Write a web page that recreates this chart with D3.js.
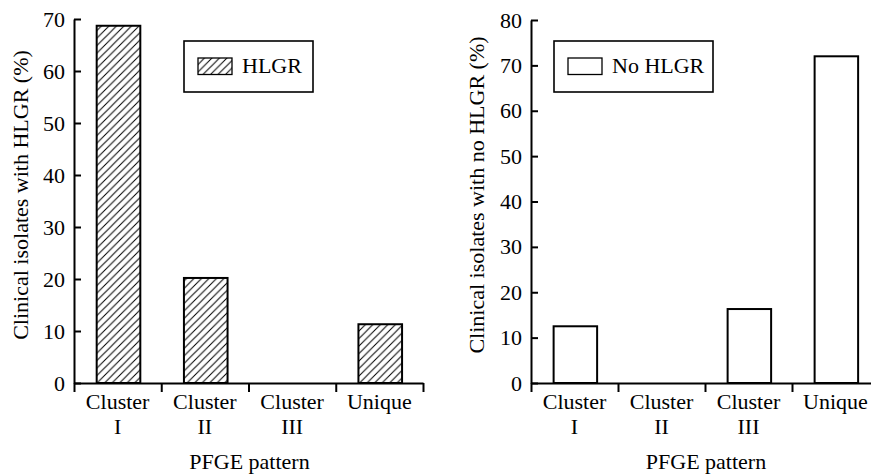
<!DOCTYPE html>
<html>
<head>
<meta charset="utf-8">
<script src="https://cdn.jsdelivr.net/npm/d3@7"></script>
<style>
  html, body { margin: 0; padding: 0; background: #fff; }
  svg { display: block; }
  svg text { font-family: "Liberation Serif", "Times New Roman", Times, serif !important; }
</style>
</head>
<body>
<svg id="chart" width="871" height="475"></svg>
<script>
// PFGE pattern categories (two-line tick labels)
const categories = ['Cluster I', 'Cluster II', 'Cluster III', 'Unique'];
const tickLines = [['Cluster', 'I'], ['Cluster', 'II'], ['Cluster', 'III'], ['Unique']];

// % of clinical isolates per pattern
const hlgrValues = [68.7, 20.2, 0, 11.3];
const noHlgrValues = [12.5, 0, 16.3, 72];

const yTicksLeft = [0, 10, 20, 30, 40, 50, 60, 70];
const yTicksRight = [0, 10, 20, 30, 40, 50, 60, 70, 80];

const svg = d3.select('#chart');
const FONT = '22px';
const SERIF = '"Liberation Serif", "Times New Roman", Times, serif';

// Hatch pattern for the HLGR bars
const defs = svg.append('defs');
defs.append('pattern')
  .attr('id', 'hatch')
  .attr('patternUnits', 'userSpaceOnUse')
  .attr('width', 7.5)
  .attr('height', 7.5)
  .append('path')
  .attr('d', 'M-1,1 l2,-2 M0,7.5 l7.5,-7.5 M6.5,8.5 l2,-2')
  .attr('stroke', '#000')
  .attr('stroke-width', 1);

function drawPanel(opts) {
  const { x0, x1, yTop, yMax, yTicks, values, fill, yLabel, yLabelX, legend } = opts;
  const baseY = 383;

  const x = d3.scaleBand().domain(categories).range([x0, x1]);
  const xEdge = d3.scaleLinear().domain([0, categories.length]).range([x0, x1]);
  const y = d3.scaleLinear().domain([0, yMax]).range([baseY, yTop]);

  const g = svg.append('g');

  // Bars
  g.selectAll('rect.bar')
    .data(values.map((v, i) => ({ c: categories[i], v })).filter(d => d.v > 0))
    .join('rect')
    .attr('class', 'bar')
    .attr('x', d => x(d.c) + x.bandwidth() * 0.26)
    .attr('width', x.bandwidth() * 0.5)
    .attr('y', d => y(d.v))
    .attr('height', d => baseY - y(d.v))
    .attr('fill', fill)
    .attr('stroke', '#000')
    .attr('stroke-width', 2);

  // Y axis (inward ticks)
  const yAxis = g.append('g')
    .attr('transform', `translate(${x0},0)`)
    .call(d3.axisLeft(y).tickValues(yTicks).tickSizeInner(-7).tickSizeOuter(0).tickPadding(9))
    .attr('font-family', SERIF)
    .attr('font-size', FONT);
  yAxis.select('.domain').attr('stroke-width', 2);
  yAxis.selectAll('.tick line').attr('stroke-width', 2);
  yAxis.selectAll('text')
    .style('font-family', SERIF)
    .style('font-size', FONT)
    .attr('fill', '#000');

  // X axis: ticks at band edges
  const xAxis = g.append('g')
    .attr('transform', `translate(0,${baseY})`)
    .call(d3.axisBottom(xEdge).tickValues(d3.range(categories.length + 1)).tickFormat('').tickSizeInner(9).tickSizeOuter(0));
  xAxis.select('.domain').attr('stroke-width', 2);
  xAxis.selectAll('.tick line').attr('stroke-width', 2);

  // Category labels
  categories.forEach((c, i) => {
    const t = g.append('text')
      .attr('x', x(c) + x.bandwidth() / 2)
      .attr('y', baseY + 26)
      .attr('text-anchor', 'middle')
      .style('font-family', SERIF)
      .style('font-size', FONT)
      .attr('fill', '#000');
    tickLines[i].forEach((line, j) => {
      t.append('tspan')
        .attr('x', x(c) + x.bandwidth() / 2)
        .attr('dy', j === 0 ? 0 : 25)
        .text(line);
    });
  });

  // X title
  g.append('text')
    .attr('x', (x0 + x1) / 2 + 1)
    .attr('y', 469)
    .attr('text-anchor', 'middle')
    .style('font-family', SERIF)
    .style('font-size', FONT)
    .attr('fill', '#000')
    .text('PFGE pattern');

  // Y title
  g.append('text')
    .attr('transform', `translate(${yLabelX},195) rotate(-90)`)
    .attr('text-anchor', 'middle')
    .style('font-family', SERIF)
    .style('font-size', FONT)
    .attr('fill', '#000')
    .text(yLabel);

  // Legend
  g.append('rect')
    .attr('x', legend.x).attr('y', 41)
    .attr('width', legend.w).attr('height', 51)
    .attr('fill', '#fff').attr('stroke', '#000').attr('stroke-width', 1.6);
  g.append('rect')
    .attr('x', legend.x + 14).attr('y', 58)
    .attr('width', 34).attr('height', 16.5)
    .attr('fill', fill).attr('stroke', '#000').attr('stroke-width', 1.3);
  g.append('text')
    .attr('x', legend.x + 58).attr('y', 73)
    .style('font-family', SERIF)
    .style('font-size', FONT)
    .attr('fill', '#000')
    .text(legend.label);
}

drawPanel({
  x0: 74, x1: 423, yTop: 19, yMax: 70, yTicks: yTicksLeft,
  values: hlgrValues, fill: 'url(#hatch)',
  yLabel: 'Clinical isolates with HLGR (%)', yLabelX: 28,
  legend: { x: 184, w: 129, label: 'HLGR' }
});

drawPanel({
  x0: 531, x1: 879, yTop: 20, yMax: 80, yTicks: yTicksRight,
  values: noHlgrValues, fill: '#fff',
  yLabel: 'Clinical isolates with no HLGR (%)', yLabelX: 484,
  legend: { x: 554, w: 159, label: 'No HLGR' }
});
</script>
</body>
</html>
